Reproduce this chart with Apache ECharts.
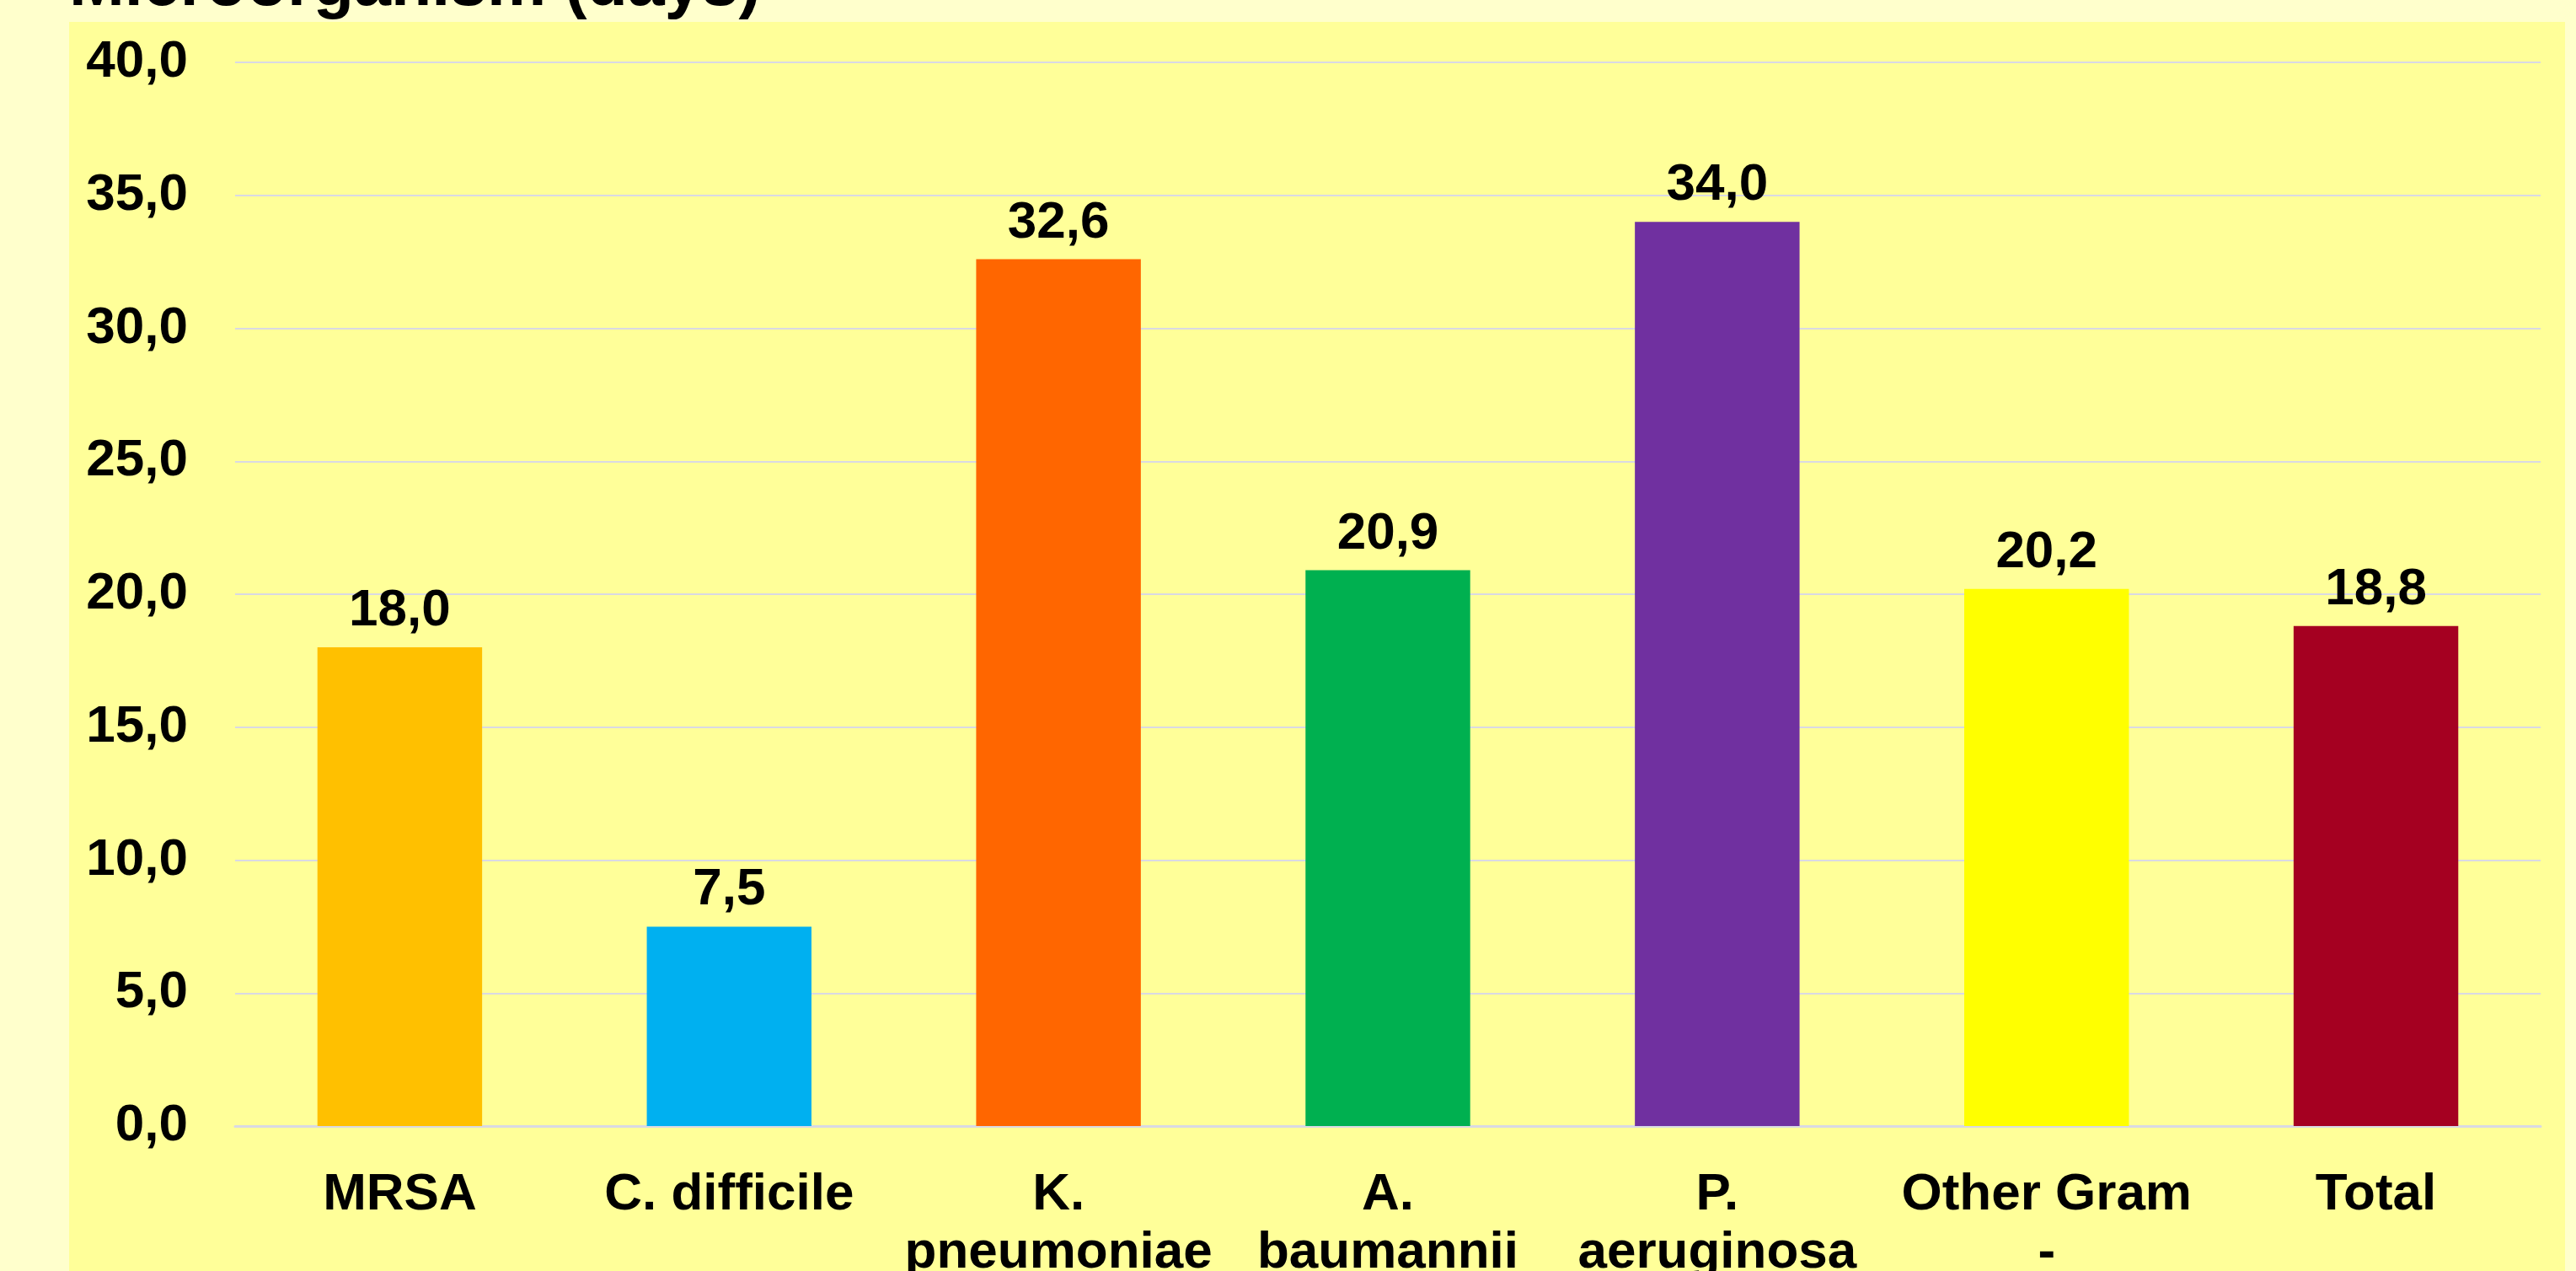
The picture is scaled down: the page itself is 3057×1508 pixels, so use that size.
<!DOCTYPE html>
<html>
<head>
<meta charset="utf-8">
<title>Microorganism (days)</title>
<script src="https://cdn.jsdelivr.net/npm/echarts@6/dist/echarts.min.js"></script>
<style>
  html, body { margin: 0; padding: 0; background: #FFFFCC; }
  #chart { width: 3057px; height: 1508px; }
</style>
</head>
<body>
<div id="chart"></div>
<script>
// ===== 数据 =====
const categories = ['MRSA', 'C. difficile', 'K.\npneumoniae', 'A.\nbaumannii', 'P.\naeruginosa', 'Other Gram\n-', 'Total']
const values = [18.0, 7.5, 32.6, 20.9, 34.0, 20.2, 18.8]
const barColors = ['#FFC000', '#00B0F0', '#FF6600', '#00B050', '#7030A0', '#FFFF00', '#A50021']
const yTicks = [0, 5, 10, 15, 20, 25, 30, 35, 40]

const FONT = "'Liberation Sans', Arial, sans-serif"
const fmt = (v) => v.toFixed(1).replace('.', ',')

const chart = echarts.init(document.getElementById('chart'))

chart.setOption({
  backgroundColor: '#FFFFCC',
  animation: false,
  title: {
    text: 'Microorganism (days)',
    left: 77,
    top: -60,
    textStyle: { fontFamily: FONT, fontSize: 79, fontWeight: 'bold', color: '#000' },
  },
  graphic: [{
    type: 'rect',
    z: -10,
    silent: true,
    shape: { x: 82, y: 26, width: 2962, height: 1500 },
    style: { fill: '#FFFF99' },
  }],
  grid: { left: 279, right: 42, top: 74, bottom: 172, outerBoundsMode: 'none', containLabel: false },
  xAxis: {
    type: 'category',
    data: categories,
    axisLine: { show: true, lineStyle: { color: '#D9D9E3', width: 3 } },
    axisTick: { show: false },
    axisLabel: {
      interval: 0,
      margin: 47,
      fontFamily: FONT,
      fontSize: 62,
      fontWeight: 'bold',
      color: '#000',
      lineHeight: 69,
    },
  },
  yAxis: {
    type: 'value',
    min: yTicks[0],
    max: yTicks[yTicks.length - 1],
    interval: 5,
    axisLine: { show: false },
    axisTick: { show: false },
    splitLine: { lineStyle: { color: '#D9D9E3', width: 2 } },
    axisLabel: {
      margin: 56,
      fontFamily: FONT,
      fontSize: 62,
      fontWeight: 'bold',
      color: '#000',
      formatter: (v) => fmt(v),
    },
  },
  series: [{
    type: 'bar',
    barCategoryGap: '50%',
    data: values.map((v, i) => ({ value: v, itemStyle: { color: barColors[i] } })),
    label: {
      show: true,
      position: 'top',
      distance: 12,
      fontFamily: FONT,
      fontSize: 62,
      fontWeight: 'bold',
      color: '#000',
      formatter: (p) => fmt(p.value),
    },
  }],
})
</script>
</body>
</html>
